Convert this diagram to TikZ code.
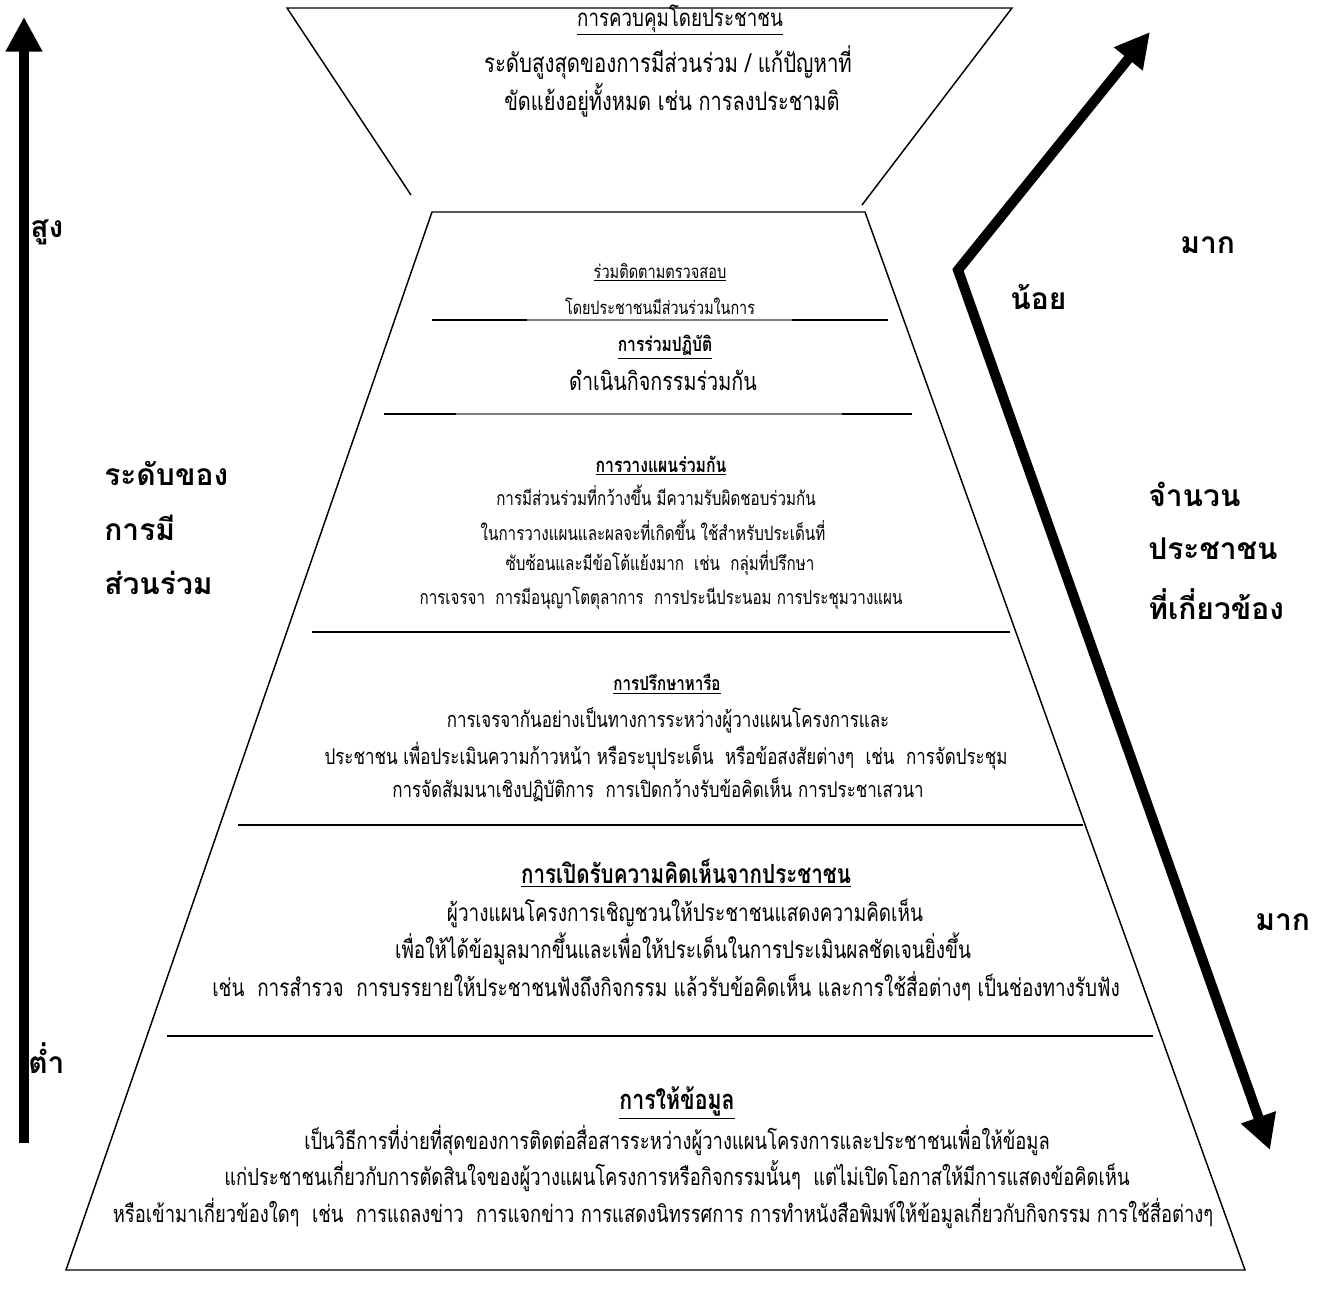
\documentclass[tikz,border=0pt]{standalone}
\usepackage{fontspec}
\usetikzlibrary{arrows.meta}
\newfontfamily\thai[Script=Thai]{Loma}
\newfontfamily\thaic[Script=Thai,FakeStretch=0.78]{Loma}
\newcommand{\fsz}[1]{\fontsize{#1}{#1}\selectfont}
\begin{document}
\begin{tikzpicture}[x=0.75pt,y=-0.75pt,
  txt/.style={inner sep=0pt, anchor=center},
  body/.style={txt, font=\thaic\fsz{#1}},
  head/.style={txt, font=\thaic\bfseries\fsz{#1}},
  lab/.style={inner sep=0pt, anchor=west, font=\thai\bfseries\fsz{22.5}},
  edge/.style={line width=1.1pt, line join=miter},
  sepk/.style={line width=1.6pt},
  sepg/.style={line width=0.8pt, gray},
  tip/.style={Triangle[length=26pt,width=26pt]},
  bigarrow/.style={line width=7.5pt, line join=miter}
]
\useasboundingbox (0,0) rectangle (1331,1291);

% left arrow
\coordinate (lb) at (24,1143);
\coordinate (lt) at (24,17);
\draw[bigarrow, -{Triangle[length=26pt,width=26pt]}] (lb) -- (lt);

% right bent arrow
\coordinate (rc) at (958,270);
\coordinate (ru) at (1150,32);
\coordinate (rd) at (1270,1150);
\draw[bigarrow, {Triangle[length=26pt,width=26pt]}-{Triangle[length=26pt,width=26pt]}] (ru) -- (rc) -- (rd);

% top funnel
\draw[edge] (411,195) -- (287,8) -- (1012,8) -- (862,205);

% pyramid
\draw[edge] (432,212) -- (865,212) -- (1245,1270) -- (66,1270) -- cycle;

% separators
\draw[sepg] (527,320) -- (792,320);
\draw[sepk] (432,320) -- (527,320);
\draw[sepk] (792,320) -- (888,320);
\draw[sepg] (456,414) -- (842,414);
\draw[sepk] (384,414) -- (456,414);
\draw[sepk] (842,414) -- (912,414);
\draw[line width=2pt] (312,632) -- (1010,632);
\draw[line width=1.8pt] (238,825) -- (1083,825);
\draw[line width=1.5pt] (167,1036) -- (1153,1036);

% top section
\node[body=18] (t1) at (680,20) {\underline{การควบคุมโดยประชาชน}};
\node[body=19.6] (t2) at (668,62) {ระดับสูงสุดของการมีส่วนร่วม / แก้ปัญหาที่};
\node[body=19.2] (t3) at (672,100) {ขัดแย้งอยู่ทั้งหมด เช่น การลงประชามติ};

% section 1
\node[body=14] (a1) at (660,272) {\underline{ร่วมติดตามตรวจสอบ}};
\begin{scope}
\clip (500,290) rectangle (820,313);
\node[body=13.8] (a2) at (660,306) {โดยประชาชนมีส่วนร่วมในการ};
\end{scope}

% section 2
\node[head=15] (b1) at (665,347) {\underline{การร่วมปฏิบัติ}};
\node[body=19] (b2) at (663,380) {ดำเนินกิจกรรมร่วมกัน};

% section 3
\node[head=15.2] (c0) at (661,466) {\underline{การวางแผนร่วมกัน}};
\node[body=14.6] (c1) at (656,495) {การมีส่วนร่วมที่กว้างขึ้น มีความรับผิดชอบร่วมกัน};
\node[body=14.6] (c2) at (653,530) {ในการวางแผนและผลจะที่เกิดขึ้น ใช้สำหรับประเด็นที่};
\node[body=14.6] (c3) at (660,563) {ซับซ้อนและมีข้อโต้แย้งมาก\ \ เช่น\ \ กลุ่มที่ปรึกษา};
\node[body=14.6] (c4) at (661,598) {การเจรจา\ \ การมีอนุญาโตตุลาการ\ \ การประนีประนอม การประชุมวางแผน};

% section 4
\node[head=14.6] (d0) at (667,684) {\underline{การปรึกษาหารือ}};
\node[body=16.3] (d1) at (668,720) {การเจรจากันอย่างเป็นทางการระหว่างผู้วางแผนโครงการและ};
\node[body=16.3] (d2) at (666,756) {ประชาชน เพื่อประเมินความก้าวหน้า หรือระบุประเด็น\ \ หรือข้อสงสัยต่างๆ\ \ เช่น\ \ การจัดประชุม};
\node[body=16.3] (d3) at (658,790) {การจัดสัมมนาเชิงปฏิบัติการ\ \ การเปิดกว้างรับข้อคิดเห็น การประชาเสวนา};

% section 5
\node[head=19.8] (e0) at (686,873) {\underline{การเปิดรับความคิดเห็นจากประชาชน}};
\node[body=18.2] (e1) at (685,913) {ผู้วางแผนโครงการเชิญชวนให้ประชาชนแสดงความคิดเห็น};
\node[body=18.2] (e2) at (683,949) {เพื่อให้ได้ข้อมูลมากขึ้นและเพื่อให้ประเด็นในการประเมินผลชัดเจนยิ่งขึ้น};
\node[body=18.2] (e3) at (666,986) {เช่น\ \ การสำรวจ\ \ การบรรยายให้ประชาชนฟังถึงกิจกรรม แล้วรับข้อคิดเห็น และการใช้สื่อต่างๆ เป็นช่องทางรับฟัง};

% section 6
\node[head=20.5] (f0) at (677,1103) {\underline{การให้ข้อมูล}};
\node[body=17.7] (f1) at (677,1140) {เป็นวิธีการที่ง่ายที่สุดของการติดต่อสื่อสารระหว่างผู้วางแผนโครงการและประชาชนเพื่อให้ข้อมูล};
\node[body=17.7] (f2) at (677,1176) {แก่ประชาชนเกี่ยวกับการตัดสินใจของผู้วางแผนโครงการหรือกิจกรรมนั้นๆ\ \ แต่ไม่เปิดโอกาสให้มีการแสดงข้อคิดเห็น};
\node[body=17.7] (f3) at (663,1213) {หรือเข้ามาเกี่ยวข้องใดๆ\ \ เช่น\ \ การแถลงข่าว\ \ การแจกข่าว การแสดงนิทรรศการ การทำหนังสือพิมพ์ให้ข้อมูลเกี่ยวกับกิจกรรม การใช้สื่อต่างๆ};

% left labels
\node[lab] (l1) at (30,232) {สูง};
\node[lab] (l2) at (104,473) {ระดับของ};
\node[lab] (l3) at (104,528) {การมี};
\node[lab] (l4) at (104,583) {ส่วนร่วม};
\node[lab] (l5) at (28,1058) {ต่ำ};

% right labels
\node[lab] (r1) at (1180,245) {มาก};
\node[lab] (r2) at (1010,297) {น้อย};
\node[lab] (r3) at (1148,494) {จำนวน};
\node[lab] (r4) at (1148,549) {ประชาชน};
\node[lab] (r5) at (1148,604) {ที่เกี่ยวข้อง};
\node[lab] (r6) at (1255,922) {มาก};
\end{tikzpicture}
\end{document}
